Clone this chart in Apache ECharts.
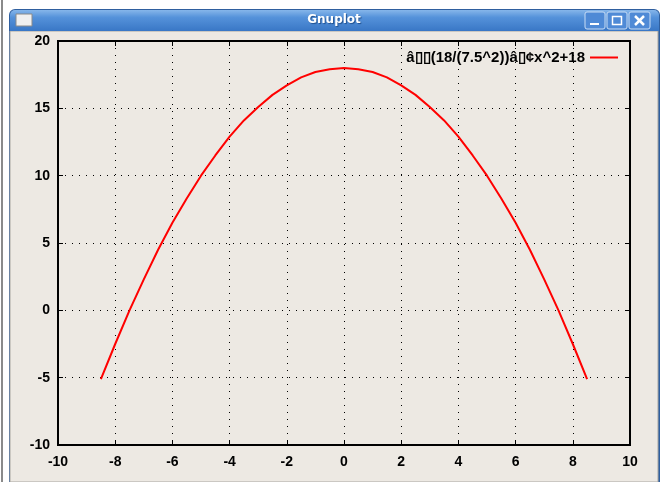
<!DOCTYPE html>
<html>
<head>
<meta charset="utf-8">
<script src="https://cdn.jsdelivr.net/npm/echarts@6/dist/echarts.min.js"></script>
<style>
html,body{margin:0;padding:0;background:#fff;}
#c{width:661px;height:482px;}
</style>
</head>
<body>
<div id="c"></div>
<script>
// Data
const xValues = [-8.5,-8,-7.5,-7,-6.5,-6,-5.5,-5,-4.5,-4,-3.5,-3,-2.5,-2,-1.5,-1,-0.5,0,0.5,1,1.5,2,2.5,3,3.5,4,4.5,5,5.5,6,6.5,7,7.5,8,8.5];
const yValues = [-5.1,-2.5,0.0,2.3,4.5,6.5,8.3,10.0,11.5,12.9,14.1,15.1,16.0,16.7,17.3,17.7,17.9,18.0,17.9,17.7,17.3,16.7,16.0,15.1,14.1,12.9,11.5,10.0,8.3,6.5,4.5,2.3,0.0,-2.5,-5.1];
// legend text as rendered (mis-decoded characters shown as empty boxes)
const seriesName = "\u00e2\u25af\u25af(18/(7.5^2))\u00e2\u25af\u00a2x^2+18";
const windowTitle = "Gnuplot";
const xTicks = {min: -10, max: 10, interval: 2};
const yTicks = {min: -10, max: 20, interval: 5};

const chart = echarts.init(document.getElementById('c'), null, {renderer: 'canvas'});
const font = {fontFamily: 'Liberation Sans', fontWeight: 'bold', fontSize: 14, color: '#000'};
const legendFont = {fontFamily: 'Liberation Sans', fontWeight: 'bold', fontSize: 15, color: '#000'};
const dotted = {show: true, showMinLine: false, showMaxLine: false, lineStyle: {color: '#000', width: 1, type: [1, 6]}};
const tick = {show: true, inside: true, length: 5, lineStyle: {color: '#000', width: 1}};

chart.setOption({
  backgroundColor: '#ffffff',
  animation: false,
  graphic: [
    {type: 'rect', shape: {x: 1, y: 0, width: 2, height: 482}, style: {fill: '#8a8a8a'}, z: -10},
    {type: 'rect', shape: {x: 9, y: 9, width: 651, height: 473, r: [6, 6, 0, 0]}, style: {fill: '#2f5f9f'}, z: -9},
    {type: 'rect', shape: {x: 10, y: 31, width: 648, height: 451}, style: {fill: '#ede9e3', stroke: '#a9a7a2', lineWidth: 1}, z: -8},
    {type: 'rect', shape: {x: 10, y: 10, width: 649, height: 21, r: [5, 5, 0, 0]},
      style: {fill: new echarts.graphic.LinearGradient(0, 0, 0, 1, [
        {offset: 0, color: '#86b6ea'}, {offset: 0.35, color: '#5592da'}, {offset: 1, color: '#3977c6'}])}, z: -7},
    {type: 'text', x: 334, y: 20, style: {text: windowTitle, fill: '#ffffff', font: 'bold 12px "DejaVu Sans"', textAlign: 'center', textVerticalAlign: 'middle', textShadowColor: '#1d4f8f', textShadowBlur: 1, textShadowOffsetX: 1, textShadowOffsetY: 1}, z: -6},
    {type: 'rect', shape: {x: 16, y: 14, width: 16, height: 12}, style: {fill: '#f0f0f0', stroke: '#8a8a8a', lineWidth: 1}, z: -6},
    {type: 'rect', shape: {x: 585, y: 12, width: 20, height: 17, r: 2}, style: {fill: '#4f8ad6', stroke: '#c9ddf5', lineWidth: 1}, z: -6},
    {type: 'rect', shape: {x: 590, y: 23, width: 9, height: 2}, style: {fill: '#ffffff'}, z: -5},
    {type: 'rect', shape: {x: 607, y: 12, width: 20, height: 17, r: 2}, style: {fill: '#4f8ad6', stroke: '#c9ddf5', lineWidth: 1}, z: -6},
    {type: 'rect', shape: {x: 612.5, y: 16.5, width: 9, height: 8}, style: {fill: 'none', stroke: '#ffffff', lineWidth: 1.5}, z: -5},
    {type: 'rect', shape: {x: 629, y: 12, width: 21, height: 17, r: 2}, style: {fill: '#4f8ad6', stroke: '#c9ddf5', lineWidth: 1}, z: -6},
    {type: 'line', shape: {x1: 635, y1: 16, x2: 644, y2: 25}, style: {stroke: '#ffffff', lineWidth: 2.5}, z: -5},
    {type: 'line', shape: {x1: 644, y1: 16, x2: 635, y2: 25}, style: {stroke: '#ffffff', lineWidth: 2.5}, z: -5}
  ],
  grid: {left: 58, right: 31, top: 41, bottom: 37, show: true, borderColor: '#000', borderWidth: 2, backgroundColor: 'transparent'},
  legend: {
    data: [{name: seriesName, icon: 'rect'}], right: 38, top: 45, align: 'right', itemWidth: 28, itemHeight: 2, itemGap: 7,
    textStyle: legendFont
  },
  xAxis: [
    {type: 'value', min: xTicks.min, max: xTicks.max, interval: xTicks.interval, position: 'bottom',
      axisLine: {show: false, onZero: false}, axisTick: tick,
      axisLabel: Object.assign({margin: 10}, font), splitLine: dotted},
    {type: 'value', min: xTicks.min, max: xTicks.max, interval: xTicks.interval, position: 'top',
      axisLine: {show: false, onZero: false}, axisTick: tick,
      axisLabel: {show: false}, splitLine: {show: false}}
  ],
  yAxis: [
    {type: 'value', min: yTicks.min, max: yTicks.max, interval: yTicks.interval, position: 'left',
      axisLine: {show: false, onZero: false}, axisTick: tick,
      axisLabel: Object.assign({margin: 8}, font), splitLine: dotted},
    {type: 'value', min: yTicks.min, max: yTicks.max, interval: yTicks.interval, position: 'right',
      axisLine: {show: false, onZero: false}, axisTick: tick,
      axisLabel: {show: false}, splitLine: {show: false}}
  ],
  series: [{
    name: seriesName, type: 'line', symbol: 'none', smooth: false,
    data: xValues.map((x, i) => [x, yValues[i]]),
    lineStyle: {color: '#ff0000', width: 2}, itemStyle: {color: '#ff0000'}
  }]
});
</script>
</body>
</html>
